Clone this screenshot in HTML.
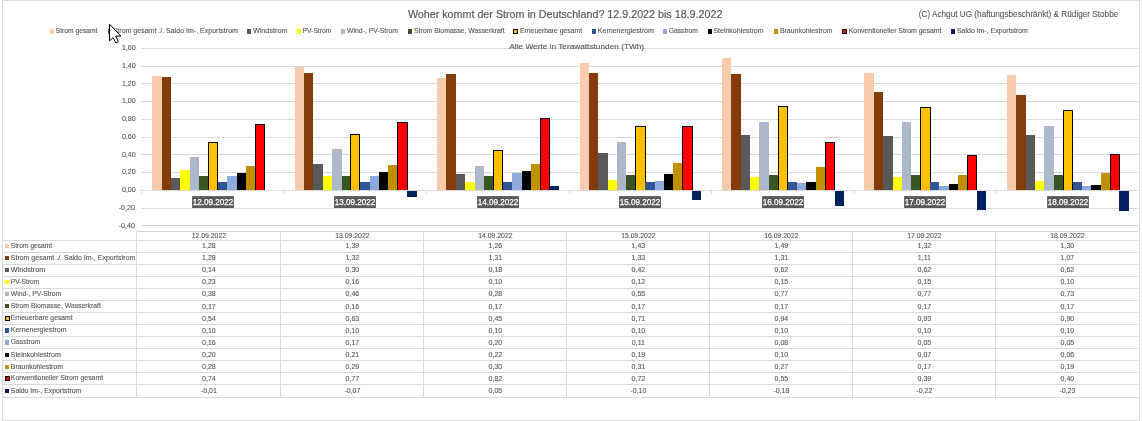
<!DOCTYPE html>
<html lang="de"><head><meta charset="utf-8"><title>Woher kommt der Strom in Deutschland?</title>
<style>html,body{margin:0;padding:0;background:#fff}svg{display:block}text{stroke:#595959;stroke-width:.12px}text.w{stroke:#fff;stroke-width:.25px}</style></head>
<body>
<svg width="1142" height="421" viewBox="0 0 1142 421" font-family='"Liberation Sans", sans-serif'>
<rect width="1142" height="421" fill="#fff"/>
<rect x="2.5" y="0.5" width="1137" height="420" fill="none" stroke="#D9D9D9" stroke-width="1"/>
<line x1="141.4" x2="1138.0" y1="225.5" y2="225.5" stroke="#D9D9D9" stroke-width="1"/>
<text x="134.9" y="227.60" font-size="7.1" fill="#595959" text-anchor="end">-0,40</text>
<line x1="141.4" x2="1138.0" y1="208.5" y2="208.5" stroke="#D9D9D9" stroke-width="1"/>
<text x="134.9" y="209.85" font-size="7.1" fill="#595959" text-anchor="end">-0,20</text>
<line x1="141.4" x2="1138.0" y1="190.5" y2="190.5" stroke="#D9D9D9" stroke-width="1"/>
<text x="135.7" y="192.10" font-size="7.1" fill="#595959" text-anchor="end">0,00</text>
<line x1="141.4" x2="1138.0" y1="172.5" y2="172.5" stroke="#D9D9D9" stroke-width="1"/>
<text x="135.7" y="174.35" font-size="7.1" fill="#595959" text-anchor="end">0,20</text>
<line x1="141.4" x2="1138.0" y1="154.5" y2="154.5" stroke="#D9D9D9" stroke-width="1"/>
<text x="135.7" y="156.60" font-size="7.1" fill="#595959" text-anchor="end">0,40</text>
<line x1="141.4" x2="1138.0" y1="137.5" y2="137.5" stroke="#D9D9D9" stroke-width="1"/>
<text x="135.7" y="138.85" font-size="7.1" fill="#595959" text-anchor="end">0,60</text>
<line x1="141.4" x2="1138.0" y1="119.5" y2="119.5" stroke="#D9D9D9" stroke-width="1"/>
<text x="135.7" y="121.10" font-size="7.1" fill="#595959" text-anchor="end">0,80</text>
<line x1="141.4" x2="1138.0" y1="101.5" y2="101.5" stroke="#D9D9D9" stroke-width="1"/>
<text x="135.7" y="103.35" font-size="7.1" fill="#595959" text-anchor="end">1,00</text>
<line x1="141.4" x2="1138.0" y1="83.5" y2="83.5" stroke="#D9D9D9" stroke-width="1"/>
<text x="135.7" y="85.60" font-size="7.1" fill="#595959" text-anchor="end">1,20</text>
<line x1="141.4" x2="1138.0" y1="66.5" y2="66.5" stroke="#D9D9D9" stroke-width="1"/>
<text x="135.7" y="67.85" font-size="7.1" fill="#595959" text-anchor="end">1,40</text>
<line x1="141.4" x2="1138.0" y1="48.5" y2="48.5" stroke="#D9D9D9" stroke-width="1"/>
<text x="135.7" y="50.10" font-size="7.1" fill="#595959" text-anchor="end">1,60</text>
<rect x="152" y="76" width="10" height="114" fill="#F8CBAD"/>
<rect x="162" y="77" width="9" height="113" fill="#843C0C"/>
<rect x="171" y="178" width="9" height="12" fill="#595959"/>
<rect x="180" y="170" width="10" height="20" fill="#FFFF00"/>
<rect x="190" y="157" width="9" height="33" fill="#ADB9CA"/>
<rect x="199" y="176" width="9" height="14" fill="#375623"/>
<rect x="208.5" y="142.5" width="9" height="48" fill="#FFC000" stroke="#000" stroke-width="1"/>
<rect x="218" y="182" width="9" height="8" fill="#2F5597"/>
<rect x="227" y="176" width="10" height="14" fill="#8FAADC"/>
<rect x="237" y="173" width="9" height="17" fill="#000000"/>
<rect x="246" y="166" width="9" height="24" fill="#BF9000"/>
<rect x="255.5" y="124.5" width="9" height="66" fill="#FF0000" stroke="#000" stroke-width="1"/>
<rect x="295" y="67" width="9" height="123" fill="#F8CBAD"/>
<rect x="304" y="73" width="9" height="117" fill="#843C0C"/>
<rect x="313" y="164" width="10" height="26" fill="#595959"/>
<rect x="323" y="176" width="9" height="14" fill="#FFFF00"/>
<rect x="332" y="149" width="10" height="41" fill="#ADB9CA"/>
<rect x="342" y="176" width="8" height="14" fill="#375623"/>
<rect x="350.5" y="134.5" width="9" height="56" fill="#FFC000" stroke="#000" stroke-width="1"/>
<rect x="360" y="182" width="10" height="8" fill="#2F5597"/>
<rect x="370" y="176" width="9" height="14" fill="#8FAADC"/>
<rect x="379" y="172" width="9" height="18" fill="#000000"/>
<rect x="388" y="165" width="9" height="25" fill="#BF9000"/>
<rect x="397.5" y="122.5" width="10" height="68" fill="#FF0000" stroke="#000" stroke-width="1"/>
<rect x="407" y="191" width="10" height="6" fill="#002060"/>
<rect x="437" y="78" width="9" height="112" fill="#F8CBAD"/>
<rect x="446" y="74" width="10" height="116" fill="#843C0C"/>
<rect x="456" y="174" width="9" height="16" fill="#595959"/>
<rect x="465" y="182" width="10" height="8" fill="#FFFF00"/>
<rect x="475" y="166" width="9" height="24" fill="#ADB9CA"/>
<rect x="484" y="176" width="9" height="14" fill="#375623"/>
<rect x="493.5" y="150.5" width="9" height="40" fill="#FFC000" stroke="#000" stroke-width="1"/>
<rect x="503" y="182" width="9" height="8" fill="#2F5597"/>
<rect x="512" y="173" width="10" height="17" fill="#8FAADC"/>
<rect x="522" y="171" width="9" height="19" fill="#000000"/>
<rect x="531" y="164" width="9" height="26" fill="#BF9000"/>
<rect x="540.5" y="118.5" width="9" height="72" fill="#FF0000" stroke="#000" stroke-width="1"/>
<rect x="550" y="186" width="9" height="4" fill="#002060"/>
<rect x="580" y="63" width="9" height="127" fill="#F8CBAD"/>
<rect x="589" y="73" width="9" height="117" fill="#843C0C"/>
<rect x="598" y="153" width="10" height="37" fill="#595959"/>
<rect x="608" y="180" width="9" height="10" fill="#FFFF00"/>
<rect x="617" y="142" width="9" height="48" fill="#ADB9CA"/>
<rect x="626" y="175" width="9" height="15" fill="#375623"/>
<rect x="635.5" y="126.5" width="10" height="64" fill="#FFC000" stroke="#000" stroke-width="1"/>
<rect x="645" y="182" width="10" height="8" fill="#2F5597"/>
<rect x="655" y="181" width="9" height="9" fill="#8FAADC"/>
<rect x="664" y="174" width="9" height="16" fill="#000000"/>
<rect x="673" y="163" width="9" height="27" fill="#BF9000"/>
<rect x="682.5" y="126.5" width="10" height="64" fill="#FF0000" stroke="#000" stroke-width="1"/>
<rect x="692" y="191" width="9" height="9" fill="#002060"/>
<rect x="722" y="58" width="9" height="132" fill="#F8CBAD"/>
<rect x="731" y="74" width="10" height="116" fill="#843C0C"/>
<rect x="741" y="135" width="9" height="55" fill="#595959"/>
<rect x="750" y="177" width="9" height="13" fill="#FFFF00"/>
<rect x="759" y="122" width="10" height="68" fill="#ADB9CA"/>
<rect x="769" y="175" width="9" height="15" fill="#375623"/>
<rect x="778.5" y="106.5" width="9" height="84" fill="#FFC000" stroke="#000" stroke-width="1"/>
<rect x="788" y="182" width="9" height="8" fill="#2F5597"/>
<rect x="797" y="183" width="9" height="7" fill="#8FAADC"/>
<rect x="806" y="182" width="10" height="8" fill="#000000"/>
<rect x="816" y="167" width="9" height="23" fill="#BF9000"/>
<rect x="825.5" y="142.5" width="9" height="48" fill="#FF0000" stroke="#000" stroke-width="1"/>
<rect x="835" y="191" width="9" height="15" fill="#002060"/>
<rect x="864" y="73" width="10" height="117" fill="#F8CBAD"/>
<rect x="874" y="92" width="9" height="98" fill="#843C0C"/>
<rect x="883" y="136" width="10" height="54" fill="#595959"/>
<rect x="893" y="177" width="9" height="13" fill="#FFFF00"/>
<rect x="902" y="122" width="9" height="68" fill="#ADB9CA"/>
<rect x="911" y="175" width="9" height="15" fill="#375623"/>
<rect x="920.5" y="107.5" width="10" height="83" fill="#FFC000" stroke="#000" stroke-width="1"/>
<rect x="930" y="182" width="9" height="8" fill="#2F5597"/>
<rect x="939" y="186" width="10" height="4" fill="#8FAADC"/>
<rect x="949" y="184" width="9" height="6" fill="#000000"/>
<rect x="958" y="175" width="9" height="15" fill="#BF9000"/>
<rect x="967.5" y="155.5" width="9" height="35" fill="#FF0000" stroke="#000" stroke-width="1"/>
<rect x="977" y="191" width="9" height="19" fill="#002060"/>
<rect x="1007" y="75" width="9" height="115" fill="#F8CBAD"/>
<rect x="1016" y="95" width="10" height="95" fill="#843C0C"/>
<rect x="1026" y="135" width="9" height="55" fill="#595959"/>
<rect x="1035" y="181" width="9" height="9" fill="#FFFF00"/>
<rect x="1044" y="126" width="10" height="64" fill="#ADB9CA"/>
<rect x="1054" y="175" width="9" height="15" fill="#375623"/>
<rect x="1063.5" y="110.5" width="9" height="80" fill="#FFC000" stroke="#000" stroke-width="1"/>
<rect x="1073" y="182" width="9" height="8" fill="#2F5597"/>
<rect x="1082" y="186" width="9" height="4" fill="#8FAADC"/>
<rect x="1091" y="185" width="10" height="5" fill="#000000"/>
<rect x="1101" y="173" width="9" height="17" fill="#BF9000"/>
<rect x="1110.5" y="154.5" width="9" height="36" fill="#FF0000" stroke="#000" stroke-width="1"/>
<rect x="1119" y="191" width="10" height="20" fill="#002060"/>
<line x1="141.4" x2="1138.0" y1="190.5" y2="190.5" stroke="#D9D9D9" stroke-width="1"/>
<line x1="141.50" x2="141.50" y1="190" y2="194" stroke="#D9D9D9" stroke-width="1"/>
<line x1="284.50" x2="284.50" y1="190" y2="194" stroke="#D9D9D9" stroke-width="1"/>
<line x1="426.50" x2="426.50" y1="190" y2="194" stroke="#D9D9D9" stroke-width="1"/>
<line x1="569.50" x2="569.50" y1="190" y2="194" stroke="#D9D9D9" stroke-width="1"/>
<line x1="711.50" x2="711.50" y1="190" y2="194" stroke="#D9D9D9" stroke-width="1"/>
<line x1="854.50" x2="854.50" y1="190" y2="194" stroke="#D9D9D9" stroke-width="1"/>
<line x1="996.50" x2="996.50" y1="190" y2="194" stroke="#D9D9D9" stroke-width="1"/>
<rect x="192.10" y="196.1" width="41.8" height="11.9" fill="#595959"/>
<text class="w" x="213.00" y="205.25" font-size="8.9" fill="#fff" text-anchor="middle" textLength="40.6" lengthAdjust="spacingAndGlyphs">12.09.2022</text>
<rect x="334.10" y="196.1" width="41.8" height="11.9" fill="#595959"/>
<text class="w" x="355.00" y="205.25" font-size="8.9" fill="#fff" text-anchor="middle" textLength="40.6" lengthAdjust="spacingAndGlyphs">13.09.2022</text>
<rect x="477.10" y="196.1" width="41.8" height="11.9" fill="#595959"/>
<text class="w" x="498.00" y="205.25" font-size="8.9" fill="#fff" text-anchor="middle" textLength="40.6" lengthAdjust="spacingAndGlyphs">14.09.2022</text>
<rect x="619.10" y="196.1" width="41.8" height="11.9" fill="#595959"/>
<text class="w" x="640.00" y="205.25" font-size="8.9" fill="#fff" text-anchor="middle" textLength="40.6" lengthAdjust="spacingAndGlyphs">15.09.2022</text>
<rect x="762.10" y="196.1" width="41.8" height="11.9" fill="#595959"/>
<text class="w" x="783.00" y="205.25" font-size="8.9" fill="#fff" text-anchor="middle" textLength="40.6" lengthAdjust="spacingAndGlyphs">16.09.2022</text>
<rect x="904.10" y="196.1" width="41.8" height="11.9" fill="#595959"/>
<text class="w" x="925.00" y="205.25" font-size="8.9" fill="#fff" text-anchor="middle" textLength="40.6" lengthAdjust="spacingAndGlyphs">17.09.2022</text>
<rect x="1047.10" y="196.1" width="41.8" height="11.9" fill="#595959"/>
<text class="w" x="1068.00" y="205.25" font-size="8.9" fill="#fff" text-anchor="middle" textLength="40.6" lengthAdjust="spacingAndGlyphs">18.09.2022</text>
<text x="407.9" y="17.9" font-size="11.1" style="stroke-width:.2px" fill="#595959" textLength="314.5" lengthAdjust="spacingAndGlyphs">Woher kommt der Strom in Deutschland? 12.9.2022 bis 18.9.2022</text>
<text x="918.8" y="17.4" font-size="9.4" fill="#595959" textLength="199.5" lengthAdjust="spacingAndGlyphs">(C) Achgut UG (haftungsbeschränkt) &amp; Rüdiger Stobbe</text>
<text x="509.3" y="49.1" font-size="7.3" fill="#595959" textLength="134.8" lengthAdjust="spacingAndGlyphs">Alle Werte in Terawattstunden (TWh)</text>
<rect x="50" y="29" width="4" height="5" fill="#F8CBAD"/>
<text x="55.80" y="33.0" font-size="6.7" fill="#595959" textLength="41.6" lengthAdjust="spacingAndGlyphs">Strom gesamt</text>
<rect x="108" y="29" width="4" height="5" fill="#843C0C"/>
<text x="112.70" y="33.0" font-size="6.7" fill="#595959" textLength="125.2" lengthAdjust="spacingAndGlyphs">Strom gesamt ./. Saldo Im-, Exportstrom</text>
<rect x="247" y="29" width="4" height="5" fill="#595959"/>
<text x="252.90" y="33.0" font-size="6.7" fill="#595959" textLength="34.6" lengthAdjust="spacingAndGlyphs">Windstrom</text>
<rect x="297" y="29" width="4" height="5" fill="#FFFF00"/>
<text x="302.60" y="33.0" font-size="6.7" fill="#595959" textLength="28.7" lengthAdjust="spacingAndGlyphs">PV-Strom</text>
<rect x="341" y="29" width="4" height="5" fill="#ADB9CA"/>
<text x="347.10" y="33.0" font-size="6.7" fill="#595959" textLength="50.8" lengthAdjust="spacingAndGlyphs">Wind-, PV-Strom</text>
<rect x="408" y="29" width="4" height="5" fill="#375623"/>
<text x="414.00" y="33.0" font-size="6.7" fill="#595959" textLength="90.6" lengthAdjust="spacingAndGlyphs">Strom Biomasse, Wasserkraft</text>
<rect x="513.5" y="29.5" width="4" height="4" fill="#FFC000" stroke="#000" stroke-width="1"/>
<text x="520.00" y="33.0" font-size="6.7" fill="#595959" textLength="62.1" lengthAdjust="spacingAndGlyphs">Erneuerbare gesamt</text>
<rect x="592" y="29" width="4" height="5" fill="#2F5597"/>
<text x="597.80" y="33.0" font-size="6.7" fill="#595959" textLength="56.0" lengthAdjust="spacingAndGlyphs">Kernenergiestrom</text>
<rect x="663" y="29" width="4" height="5" fill="#8FAADC"/>
<text x="668.70" y="33.0" font-size="6.7" fill="#595959" textLength="29.3" lengthAdjust="spacingAndGlyphs">Gasstrom</text>
<rect x="708" y="29" width="4" height="5" fill="#000000"/>
<text x="713.40" y="33.0" font-size="6.7" fill="#595959" textLength="50.2" lengthAdjust="spacingAndGlyphs">Steinkohlestrom</text>
<rect x="774" y="29" width="4" height="5" fill="#BF9000"/>
<text x="779.90" y="33.0" font-size="6.7" fill="#595959" textLength="52.5" lengthAdjust="spacingAndGlyphs">Braunkohlestrom</text>
<rect x="842.5" y="29.5" width="4" height="4" fill="#FF0000" stroke="#000" stroke-width="1"/>
<text x="848.70" y="33.0" font-size="6.7" fill="#595959" textLength="92.8" lengthAdjust="spacingAndGlyphs">Konventioneller Strom gesamt</text>
<rect x="951" y="29" width="4" height="5" fill="#002060"/>
<text x="957.00" y="33.0" font-size="6.7" fill="#595959" textLength="70.9" lengthAdjust="spacingAndGlyphs">Saldo Im-, Exportstrom</text>
<line x1="136.5" x2="1138.0" y1="231.5" y2="231.5" stroke="#D9D9D9" stroke-width="1"/>
<line x1="3" x2="1138.0" y1="240.50" y2="240.50" stroke="#D9D9D9" stroke-width="1"/>
<line x1="3" x2="1138.0" y1="252.50" y2="252.50" stroke="#D9D9D9" stroke-width="1"/>
<line x1="3" x2="1138.0" y1="264.50" y2="264.50" stroke="#D9D9D9" stroke-width="1"/>
<line x1="3" x2="1138.0" y1="276.50" y2="276.50" stroke="#D9D9D9" stroke-width="1"/>
<line x1="3" x2="1138.0" y1="288.50" y2="288.50" stroke="#D9D9D9" stroke-width="1"/>
<line x1="3" x2="1138.0" y1="300.50" y2="300.50" stroke="#D9D9D9" stroke-width="1"/>
<line x1="3" x2="1138.0" y1="312.50" y2="312.50" stroke="#D9D9D9" stroke-width="1"/>
<line x1="3" x2="1138.0" y1="324.50" y2="324.50" stroke="#D9D9D9" stroke-width="1"/>
<line x1="3" x2="1138.0" y1="336.50" y2="336.50" stroke="#D9D9D9" stroke-width="1"/>
<line x1="3" x2="1138.0" y1="348.50" y2="348.50" stroke="#D9D9D9" stroke-width="1"/>
<line x1="3" x2="1138.0" y1="360.50" y2="360.50" stroke="#D9D9D9" stroke-width="1"/>
<line x1="3" x2="1138.0" y1="372.50" y2="372.50" stroke="#D9D9D9" stroke-width="1"/>
<line x1="3" x2="1138.0" y1="384.50" y2="384.50" stroke="#D9D9D9" stroke-width="1"/>
<line x1="3" x2="1138.0" y1="397.50" y2="397.50" stroke="#D9D9D9" stroke-width="1"/>
<line x1="136.50" x2="136.50" y1="231.0" y2="398.0" stroke="#D9D9D9" stroke-width="1"/>
<line x1="280.50" x2="280.50" y1="231.0" y2="398.0" stroke="#D9D9D9" stroke-width="1"/>
<line x1="423.50" x2="423.50" y1="231.0" y2="398.0" stroke="#D9D9D9" stroke-width="1"/>
<line x1="566.50" x2="566.50" y1="231.0" y2="398.0" stroke="#D9D9D9" stroke-width="1"/>
<line x1="709.50" x2="709.50" y1="231.0" y2="398.0" stroke="#D9D9D9" stroke-width="1"/>
<line x1="852.50" x2="852.50" y1="231.0" y2="398.0" stroke="#D9D9D9" stroke-width="1"/>
<line x1="995.50" x2="995.50" y1="231.0" y2="398.0" stroke="#D9D9D9" stroke-width="1"/>
<text x="208.90" y="238.1" font-size="6.9" fill="#595959" text-anchor="middle" textLength="34.4" lengthAdjust="spacingAndGlyphs">12.09.2022</text>
<text x="352.40" y="238.1" font-size="6.9" fill="#595959" text-anchor="middle" textLength="34.4" lengthAdjust="spacingAndGlyphs">13.09.2022</text>
<text x="495.40" y="238.1" font-size="6.9" fill="#595959" text-anchor="middle" textLength="34.4" lengthAdjust="spacingAndGlyphs">14.09.2022</text>
<text x="638.40" y="238.1" font-size="6.9" fill="#595959" text-anchor="middle" textLength="34.4" lengthAdjust="spacingAndGlyphs">15.09.2022</text>
<text x="781.40" y="238.1" font-size="6.9" fill="#595959" text-anchor="middle" textLength="34.4" lengthAdjust="spacingAndGlyphs">16.09.2022</text>
<text x="924.40" y="238.1" font-size="6.9" fill="#595959" text-anchor="middle" textLength="34.4" lengthAdjust="spacingAndGlyphs">17.09.2022</text>
<text x="1067.40" y="238.1" font-size="6.9" fill="#595959" text-anchor="middle" textLength="34.4" lengthAdjust="spacingAndGlyphs">18.09.2022</text>
<rect x="5" y="244.0" width="4" height="4" fill="#F8CBAD"/>
<text x="10.8" y="247.80" font-size="6.7" fill="#595959" textLength="41.4" lengthAdjust="spacingAndGlyphs">Strom gesamt</text>
<text x="208.90" y="248.00" font-size="7" fill="#595959" text-anchor="middle">1,28</text>
<text x="352.40" y="248.00" font-size="7" fill="#595959" text-anchor="middle">1,39</text>
<text x="495.40" y="248.00" font-size="7" fill="#595959" text-anchor="middle">1,26</text>
<text x="638.40" y="248.00" font-size="7" fill="#595959" text-anchor="middle">1,43</text>
<text x="781.40" y="248.00" font-size="7" fill="#595959" text-anchor="middle">1,49</text>
<text x="924.40" y="248.00" font-size="7" fill="#595959" text-anchor="middle">1,32</text>
<text x="1067.40" y="248.00" font-size="7" fill="#595959" text-anchor="middle">1,30</text>
<rect x="5" y="256.0" width="4" height="4" fill="#843C0C"/>
<text x="10.8" y="259.80" font-size="6.7" fill="#595959" textLength="124.6" lengthAdjust="spacingAndGlyphs">Strom gesamt ./. Saldo Im-, Exportstrom</text>
<text x="208.90" y="260.00" font-size="7" fill="#595959" text-anchor="middle">1,28</text>
<text x="352.40" y="260.00" font-size="7" fill="#595959" text-anchor="middle">1,32</text>
<text x="495.40" y="260.00" font-size="7" fill="#595959" text-anchor="middle">1,31</text>
<text x="638.40" y="260.00" font-size="7" fill="#595959" text-anchor="middle">1,33</text>
<text x="781.40" y="260.00" font-size="7" fill="#595959" text-anchor="middle">1,31</text>
<text x="924.40" y="260.00" font-size="7" fill="#595959" text-anchor="middle">1,11</text>
<text x="1067.40" y="260.00" font-size="7" fill="#595959" text-anchor="middle">1,07</text>
<rect x="5" y="268.0" width="4" height="4" fill="#595959"/>
<text x="10.8" y="271.90" font-size="6.7" fill="#595959" textLength="34.4" lengthAdjust="spacingAndGlyphs">Windstrom</text>
<text x="208.90" y="272.10" font-size="7" fill="#595959" text-anchor="middle">0,14</text>
<text x="352.40" y="272.10" font-size="7" fill="#595959" text-anchor="middle">0,30</text>
<text x="495.40" y="272.10" font-size="7" fill="#595959" text-anchor="middle">0,18</text>
<text x="638.40" y="272.10" font-size="7" fill="#595959" text-anchor="middle">0,42</text>
<text x="781.40" y="272.10" font-size="7" fill="#595959" text-anchor="middle">0,62</text>
<text x="924.40" y="272.10" font-size="7" fill="#595959" text-anchor="middle">0,62</text>
<text x="1067.40" y="272.10" font-size="7" fill="#595959" text-anchor="middle">0,62</text>
<rect x="5" y="280.0" width="4" height="4" fill="#FFFF00"/>
<text x="10.8" y="283.80" font-size="6.7" fill="#595959" textLength="28.6" lengthAdjust="spacingAndGlyphs">PV-Strom</text>
<text x="208.90" y="284.00" font-size="7" fill="#595959" text-anchor="middle">0,23</text>
<text x="352.40" y="284.00" font-size="7" fill="#595959" text-anchor="middle">0,16</text>
<text x="495.40" y="284.00" font-size="7" fill="#595959" text-anchor="middle">0,10</text>
<text x="638.40" y="284.00" font-size="7" fill="#595959" text-anchor="middle">0,12</text>
<text x="781.40" y="284.00" font-size="7" fill="#595959" text-anchor="middle">0,15</text>
<text x="924.40" y="284.00" font-size="7" fill="#595959" text-anchor="middle">0,15</text>
<text x="1067.40" y="284.00" font-size="7" fill="#595959" text-anchor="middle">0,10</text>
<rect x="5" y="292.0" width="4" height="4" fill="#ADB9CA"/>
<text x="10.8" y="295.80" font-size="6.7" fill="#595959" textLength="50.5" lengthAdjust="spacingAndGlyphs">Wind-, PV-Strom</text>
<text x="208.90" y="296.00" font-size="7" fill="#595959" text-anchor="middle">0,38</text>
<text x="352.40" y="296.00" font-size="7" fill="#595959" text-anchor="middle">0,46</text>
<text x="495.40" y="296.00" font-size="7" fill="#595959" text-anchor="middle">0,28</text>
<text x="638.40" y="296.00" font-size="7" fill="#595959" text-anchor="middle">0,55</text>
<text x="781.40" y="296.00" font-size="7" fill="#595959" text-anchor="middle">0,77</text>
<text x="924.40" y="296.00" font-size="7" fill="#595959" text-anchor="middle">0,77</text>
<text x="1067.40" y="296.00" font-size="7" fill="#595959" text-anchor="middle">0,73</text>
<rect x="5" y="304.0" width="4" height="4" fill="#375623"/>
<text x="10.8" y="307.80" font-size="6.7" fill="#595959" textLength="90.1" lengthAdjust="spacingAndGlyphs">Strom Biomasse, Wasserkraft</text>
<text x="208.90" y="309.00" font-size="7" fill="#595959" text-anchor="middle">0,17</text>
<text x="352.40" y="309.00" font-size="7" fill="#595959" text-anchor="middle">0,16</text>
<text x="495.40" y="309.00" font-size="7" fill="#595959" text-anchor="middle">0,17</text>
<text x="638.40" y="309.00" font-size="7" fill="#595959" text-anchor="middle">0,17</text>
<text x="781.40" y="309.00" font-size="7" fill="#595959" text-anchor="middle">0,17</text>
<text x="924.40" y="309.00" font-size="7" fill="#595959" text-anchor="middle">0,17</text>
<text x="1067.40" y="309.00" font-size="7" fill="#595959" text-anchor="middle">0,17</text>
<rect x="5.5" y="316.5" width="4" height="4" fill="#FFC000" stroke="#000" stroke-width="1"/>
<text x="10.8" y="320.10" font-size="6.7" fill="#595959" textLength="61.8" lengthAdjust="spacingAndGlyphs">Erneuerbare gesamt</text>
<text x="208.90" y="321.00" font-size="7" fill="#595959" text-anchor="middle">0,54</text>
<text x="352.40" y="321.00" font-size="7" fill="#595959" text-anchor="middle">0,63</text>
<text x="495.40" y="321.00" font-size="7" fill="#595959" text-anchor="middle">0,45</text>
<text x="638.40" y="321.00" font-size="7" fill="#595959" text-anchor="middle">0,71</text>
<text x="781.40" y="321.00" font-size="7" fill="#595959" text-anchor="middle">0,94</text>
<text x="924.40" y="321.00" font-size="7" fill="#595959" text-anchor="middle">0,93</text>
<text x="1067.40" y="321.00" font-size="7" fill="#595959" text-anchor="middle">0,90</text>
<rect x="5" y="328.0" width="4" height="5" fill="#2F5597"/>
<text x="10.8" y="331.70" font-size="6.7" fill="#595959" textLength="55.7" lengthAdjust="spacingAndGlyphs">Kernenergiestrom</text>
<text x="208.90" y="332.90" font-size="7" fill="#595959" text-anchor="middle">0,10</text>
<text x="352.40" y="332.90" font-size="7" fill="#595959" text-anchor="middle">0,10</text>
<text x="495.40" y="332.90" font-size="7" fill="#595959" text-anchor="middle">0,10</text>
<text x="638.40" y="332.90" font-size="7" fill="#595959" text-anchor="middle">0,10</text>
<text x="781.40" y="332.90" font-size="7" fill="#595959" text-anchor="middle">0,10</text>
<text x="924.40" y="332.90" font-size="7" fill="#595959" text-anchor="middle">0,10</text>
<text x="1067.40" y="332.90" font-size="7" fill="#595959" text-anchor="middle">0,10</text>
<rect x="5" y="340.0" width="4" height="5" fill="#8FAADC"/>
<text x="10.8" y="344.20" font-size="6.7" fill="#595959" textLength="29.2" lengthAdjust="spacingAndGlyphs">Gasstrom</text>
<text x="208.90" y="345.10" font-size="7" fill="#595959" text-anchor="middle">0,16</text>
<text x="352.40" y="345.10" font-size="7" fill="#595959" text-anchor="middle">0,17</text>
<text x="495.40" y="345.10" font-size="7" fill="#595959" text-anchor="middle">0,20</text>
<text x="638.40" y="345.10" font-size="7" fill="#595959" text-anchor="middle">0,11</text>
<text x="781.40" y="345.10" font-size="7" fill="#595959" text-anchor="middle">0,08</text>
<text x="924.40" y="345.10" font-size="7" fill="#595959" text-anchor="middle">0,05</text>
<text x="1067.40" y="345.10" font-size="7" fill="#595959" text-anchor="middle">0,05</text>
<rect x="5" y="353.0" width="4" height="4" fill="#000000"/>
<text x="10.8" y="356.60" font-size="6.7" fill="#595959" textLength="49.9" lengthAdjust="spacingAndGlyphs">Steinkohlestrom</text>
<text x="208.90" y="356.80" font-size="7" fill="#595959" text-anchor="middle">0,20</text>
<text x="352.40" y="356.80" font-size="7" fill="#595959" text-anchor="middle">0,21</text>
<text x="495.40" y="356.80" font-size="7" fill="#595959" text-anchor="middle">0,22</text>
<text x="638.40" y="356.80" font-size="7" fill="#595959" text-anchor="middle">0,19</text>
<text x="781.40" y="356.80" font-size="7" fill="#595959" text-anchor="middle">0,10</text>
<text x="924.40" y="356.80" font-size="7" fill="#595959" text-anchor="middle">0,07</text>
<text x="1067.40" y="356.80" font-size="7" fill="#595959" text-anchor="middle">0,06</text>
<rect x="5" y="365.0" width="4" height="4" fill="#BF9000"/>
<text x="10.8" y="368.60" font-size="6.7" fill="#595959" textLength="52.2" lengthAdjust="spacingAndGlyphs">Braunkohlestrom</text>
<text x="208.90" y="368.80" font-size="7" fill="#595959" text-anchor="middle">0,28</text>
<text x="352.40" y="368.80" font-size="7" fill="#595959" text-anchor="middle">0,29</text>
<text x="495.40" y="368.80" font-size="7" fill="#595959" text-anchor="middle">0,30</text>
<text x="638.40" y="368.80" font-size="7" fill="#595959" text-anchor="middle">0,31</text>
<text x="781.40" y="368.80" font-size="7" fill="#595959" text-anchor="middle">0,27</text>
<text x="924.40" y="368.80" font-size="7" fill="#595959" text-anchor="middle">0,17</text>
<text x="1067.40" y="368.80" font-size="7" fill="#595959" text-anchor="middle">0,19</text>
<rect x="5.5" y="376.5" width="4" height="4" fill="#FF0000" stroke="#000" stroke-width="1"/>
<text x="10.8" y="380.40" font-size="6.7" fill="#595959" textLength="92.3" lengthAdjust="spacingAndGlyphs">Konventioneller Strom gesamt</text>
<text x="208.90" y="380.60" font-size="7" fill="#595959" text-anchor="middle">0,74</text>
<text x="352.40" y="380.60" font-size="7" fill="#595959" text-anchor="middle">0,77</text>
<text x="495.40" y="380.60" font-size="7" fill="#595959" text-anchor="middle">0,82</text>
<text x="638.40" y="380.60" font-size="7" fill="#595959" text-anchor="middle">0,72</text>
<text x="781.40" y="380.60" font-size="7" fill="#595959" text-anchor="middle">0,55</text>
<text x="924.40" y="380.60" font-size="7" fill="#595959" text-anchor="middle">0,39</text>
<text x="1067.40" y="380.60" font-size="7" fill="#595959" text-anchor="middle">0,40</text>
<rect x="5" y="389.0" width="4" height="4" fill="#002060"/>
<text x="10.8" y="393.00" font-size="6.7" fill="#595959" textLength="70.5" lengthAdjust="spacingAndGlyphs">Saldo Im-, Exportstrom</text>
<text x="208.90" y="393.20" font-size="7" fill="#595959" text-anchor="middle">-0,01</text>
<text x="352.40" y="393.20" font-size="7" fill="#595959" text-anchor="middle">-0,07</text>
<text x="495.40" y="393.20" font-size="7" fill="#595959" text-anchor="middle">0,05</text>
<text x="638.40" y="393.20" font-size="7" fill="#595959" text-anchor="middle">-0,10</text>
<text x="781.40" y="393.20" font-size="7" fill="#595959" text-anchor="middle">-0,18</text>
<text x="924.40" y="393.20" font-size="7" fill="#595959" text-anchor="middle">-0,22</text>
<text x="1067.40" y="393.20" font-size="7" fill="#595959" text-anchor="middle">-0,23</text>
<polygon points="109.5,24.2 109.5,40.9 113.1,37.6 115.8,43.0 118.4,41.8 115.8,36.2 120.9,36.0" fill="#fff" stroke="#000" stroke-width="1" stroke-linejoin="miter"/>
</svg>
</body></html>
